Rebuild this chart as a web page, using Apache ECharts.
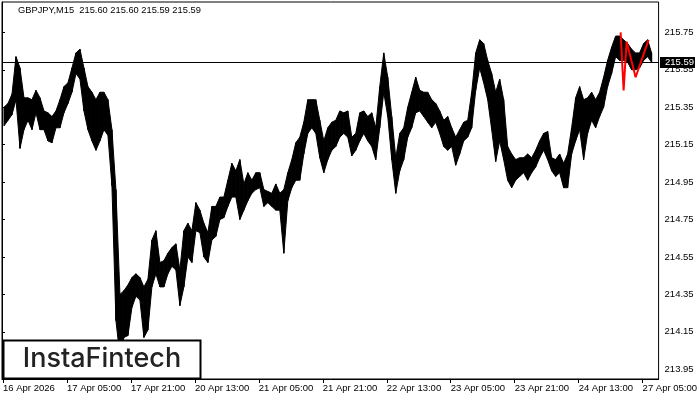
<!DOCTYPE html>
<html><head><meta charset="utf-8">
<script src="https://cdn.jsdelivr.net/npm/echarts@6/dist/echarts.min.js"></script>
<style>html,body{margin:0;padding:0;background:#fff}#c{width:700px;height:400px}</style>
</head><body><div id="c"></div>
<script>
const symbolTitle = 'GBPJPY,M15  215.60 215.60 215.59 215.59';
const currentPrice = 215.59;
const timeLabels = ['16 Apr 2026','17 Apr 05:00','17 Apr 21:00','20 Apr 13:00','21 Apr 05:00','21 Apr 21:00','22 Apr 13:00','23 Apr 05:00','23 Apr 21:00','24 Apr 13:00','27 Apr 05:00'];
const timeLabelBars = [1,65,129,193,257,321,385,449,513,577,641];
const priceTicks = [213.95,214.15,214.35,214.55,214.75,214.95,215.15,215.35,215.55,215.75];
// hourly (4 x M15 bars) highs and lows
const hourHigh = [
215.35,215.37,215.42,215.62,215.56,215.40,215.40,215.39,215.44,215.40,
215.33,215.32,215.30,215.33,215.39,215.46,215.48,215.56,215.64,215.66,
215.56,215.46,215.43,215.39,215.43,215.43,215.39,215.23,214.91,214.35,
214.37,214.40,214.44,214.46,214.44,214.39,214.43,214.64,214.69,214.52,
214.53,214.57,214.60,214.62,214.48,214.69,214.73,214.69,214.84,214.80,
214.73,214.68,214.82,214.82,214.87,214.87,214.96,215.05,215.01,215.07,
214.94,215.00,214.96,215.00,215.00,214.91,214.90,214.89,214.94,214.89,
214.91,215.00,215.07,215.16,215.19,215.27,215.39,215.39,215.39,215.28,
215.17,215.24,215.27,215.28,215.33,215.32,215.33,215.19,215.21,215.32,
215.33,215.30,215.32,215.24,215.46,215.64,215.51,215.30,215.08,215.21,
215.24,215.35,215.43,215.51,215.44,215.43,215.43,215.39,215.37,215.33,
215.28,215.30,215.24,215.19,215.23,215.27,215.28,215.43,215.64,215.71,
215.69,215.60,215.53,215.43,215.50,215.39,215.14,215.10,215.07,215.08,
215.08,215.10,215.08,215.12,215.17,215.21,215.22,215.08,215.07,215.10,
215.05,215.10,215.24,215.40,215.46,215.39,215.40,215.43,215.39,215.43,
215.51,215.60,215.67,215.73,215.73,215.71,215.69,215.66,215.64,215.64,
215.69,215.71,215.64];
const hourLow = [
215.25,215.28,215.31,215.39,215.13,215.23,215.28,215.23,215.32,215.23,
215.23,215.17,215.16,215.24,215.24,215.32,215.37,215.43,215.53,215.50,
215.33,215.23,215.17,215.12,215.17,215.23,215.20,214.93,214.21,214.02,
214.12,214.13,214.28,214.34,214.32,214.12,214.16,214.39,214.46,214.39,
214.39,214.46,214.50,214.48,214.29,214.39,214.55,214.52,214.69,214.68,
214.55,214.52,214.64,214.66,214.75,214.76,214.82,214.87,214.87,214.75,
214.80,214.85,214.89,214.91,214.92,214.82,214.84,214.82,214.80,214.80,
214.57,214.85,214.92,214.96,214.96,215.10,215.21,215.24,215.21,215.08,
215.00,215.07,215.12,215.14,215.19,215.21,215.19,215.09,215.12,215.17,
215.21,215.17,215.14,215.07,215.24,215.43,215.30,215.07,214.89,215.01,
215.07,215.19,215.24,215.32,215.33,215.30,215.27,215.24,215.27,215.21,
215.14,215.12,215.14,215.04,215.10,215.17,215.19,215.24,215.44,215.56,
215.48,215.39,215.23,215.06,215.17,215.07,214.96,214.92,214.96,214.98,
215.00,214.96,215.00,215.03,215.08,215.12,215.07,215.01,214.98,215.00,
214.92,214.92,215.10,215.17,215.23,215.07,215.21,215.28,215.24,215.30,
215.35,215.46,215.53,215.62,215.60,215.60,215.59,215.55,215.55,215.56,
215.60,215.62,215.59];
const patternBars = [619,622,625,634,647];
const patternPrices = [215.75,215.44,215.70,215.51,215.71];

const BARS_PER_HOUR = 4;
const barOf = i => i * BARS_PER_HOUR + 2;
const bandData = hourHigh.map((h, i) => [barOf(i), hourLow[i], h]);
const patternData = patternBars.map((b, i) => [b, patternPrices[i]]);

const FONT = 'Liberation Sans';
const chart = echarts.init(document.getElementById('c'), null, {renderer: 'canvas'});
chart.setOption({
  animation: false,
  backgroundColor: '#fff',
  grid: {left: 2, top: 2, right: 41, bottom: 21, show: true, borderColor: '#000', borderWidth: 1},
  xAxis: {
    type: 'value', min: 0, max: 657,
    axisLine: {show: true, lineStyle: {color: '#000', width: 1}},
    splitLine: {show: false},
    axisTick: {show: true, customValues: timeLabelBars, length: 4, lineStyle: {color: '#000'}},
    axisLabel: {
      customValues: timeLabelBars, align: 'left', margin: 4,
      fontFamily: FONT, fontSize: 9.5, color: '#000',
      formatter: v => timeLabels[timeLabelBars.indexOf(v)] || ''
    }
  },
  yAxis: {
    type: 'value', position: 'right', min: 213.898, max: 215.912,
    axisLine: {show: true, lineStyle: {color: '#000', width: 1}},
    splitLine: {show: false},
    axisTick: {show: true, customValues: priceTicks, length: 3, lineStyle: {color: '#000'}},
    axisLabel: {
      customValues: priceTicks, margin: 6,
      fontFamily: FONT, fontSize: 9.5, color: '#000',
      formatter: v => v.toFixed(2)
    }
  },
  series: [
    {
      name: 'price', type: 'custom', data: bandData, clip: true, z: 3,
      encode: {x: 0, y: [1, 2]},
      renderItem: (params, api) => {
        const i = params.dataIndexInside;
        const j = Math.min(i + 1, params.dataInsideLength - 1);
        const loI = api.coord([api.value(0, i), api.value(1, i)]);
        const hiI = api.coord([api.value(0, i), api.value(2, i)]);
        const loJ = api.coord([api.value(0, j), api.value(1, j)]);
        const hiJ = api.coord([api.value(0, j), api.value(2, j)]);
        return {
          type: 'polygon',
          shape: {points: [hiI, hiJ, loJ, loI]},
          style: {fill: '#000', stroke: '#000', lineWidth: 1}
        };
      },
      markLine: {
        silent: true, symbol: 'none', label: {show: false},
        lineStyle: {color: '#000', width: 1, type: 'solid'},
        data: [{yAxis: currentPrice}]
      }
    },
    {
      name: 'pattern', type: 'line', data: patternData,
      symbol: 'none', lineStyle: {color: '#ff0000', width: 2}, z: 5
    }
  ]
});

const py = chart.convertToPixel({yAxisIndex: 0}, currentPrice);
chart.setOption({
  graphic: [
    {type: 'text', left: 18, top: 6, z: 100,
     style: {text: symbolTitle, font: '9.3px "' + FONT + '"', fill: '#000'}},
    {type: 'rect', z: 100, shape: {x: 660, y: Math.round(py) - 5, width: 35, height: 11},
     style: {fill: '#000'}},
    {type: 'text', z: 101, x: 665, y: Math.round(py) + 0.5,
     style: {text: currentPrice.toFixed(2), font: '9.5px "' + FONT + '"', fill: '#fff', verticalAlign: 'middle'}},
    {type: 'rect', z: 100, shape: {x: 3.5, y: 340.5, width: 197, height: 38},
     style: {fill: '#fff', stroke: '#000', lineWidth: 2}},
    {type: 'text', z: 101, x: 102, y: 359,
     style: {text: 'InstaFintech', font: '500 27px Inter', fill: '#222', align: 'center', verticalAlign: 'middle'}}
  ]
});
</script>
</body></html>
